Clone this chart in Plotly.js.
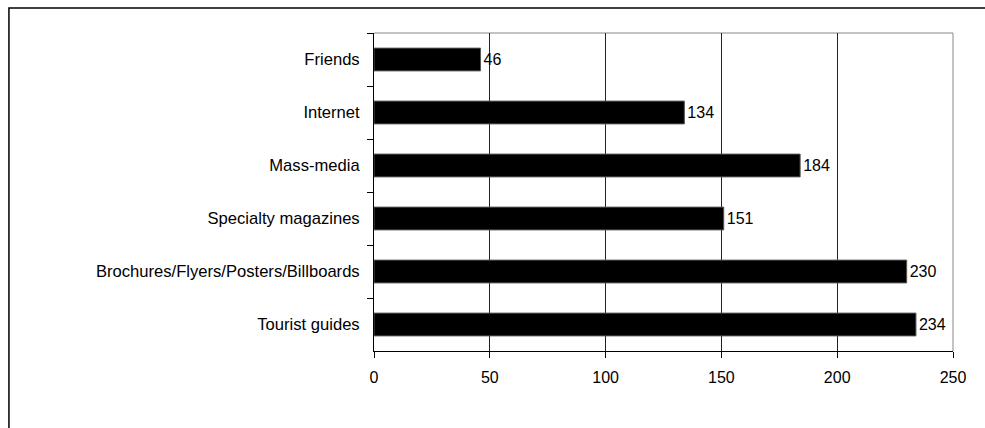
<!DOCTYPE html>
<html><head><meta charset="utf-8">
<script src="https://cdn.plot.ly/plotly-3.0.1.min.js"></script>
<style>html,body{margin:0;padding:0;background:#fff}#c{width:985px;height:428px}</style>
</head><body><div id="c"></div>
<script>
const categories = ["Friends","Internet","Mass-media","Specialty magazines","Brochures/Flyers/Posters/Billboards","Tourist guides"];
const values = [46,134,184,151,230,234];
const xTicks = [0,50,100,150,200,250];

const trace = {
  type:'bar', orientation:'h',
  y: categories, x: values,
  text: values.map(String), textposition:'outside', cliponaxis:false,
  textfont:{family:'Liberation Sans, Arial, sans-serif', size:16, color:'#000'},
  marker:{color:'#000', line:{color:'#555', width:1}},
  width:0.43, hoverinfo:'none'
};
const layout = {
  width:985, height:428,
  margin:{l:373.5, r:32.3, t:33, b:77, pad:0},
  paper_bgcolor:'#fff', plot_bgcolor:'#fff',
  font:{family:'Liberation Sans, Arial, sans-serif', size:16, color:'#000'},
  showlegend:false,
  xaxis:{range:[0,250], tickvals:xTicks, ticktext:xTicks.map(String), showgrid:true, gridcolor:'#222', gridwidth:1,
    showline:true, linecolor:'#000', linewidth:1, ticks:'outside', ticklen:6, tickcolor:'#000', zeroline:false,
    tickfont:{size:16}, ticklabelstandoff:6, fixedrange:true},
  yaxis:{autorange:'reversed', type:'category', showline:true, linecolor:'#000', linewidth:1, ticks:'outside',
    ticklen:6, tickcolor:'#000', tickson:'boundaries', showgrid:false, ticklabelstandoff:10, tickfont:{size:16.6}, fixedrange:true},
  shapes:[
    {type:'line', xref:'paper', yref:'paper', x0:0, x1:1, y0:1, y1:1, line:{color:'#888', width:1}, layer:'below'},
    {type:'line', xref:'paper', yref:'paper', x0:1, x1:1, y0:0, y1:1, line:{color:'#888', width:1}, layer:'above'},
    {type:'rect', xref:'paper', yref:'paper', x0:-0.6305, x1:2, y0:-1, y1:1.0786, line:{color:'#000', width:1.5}, fillcolor:'rgba(0,0,0,0)'}
  ]
};
Plotly.newPlot('c',[trace],layout,{staticPlot:true});
</script></body></html>
